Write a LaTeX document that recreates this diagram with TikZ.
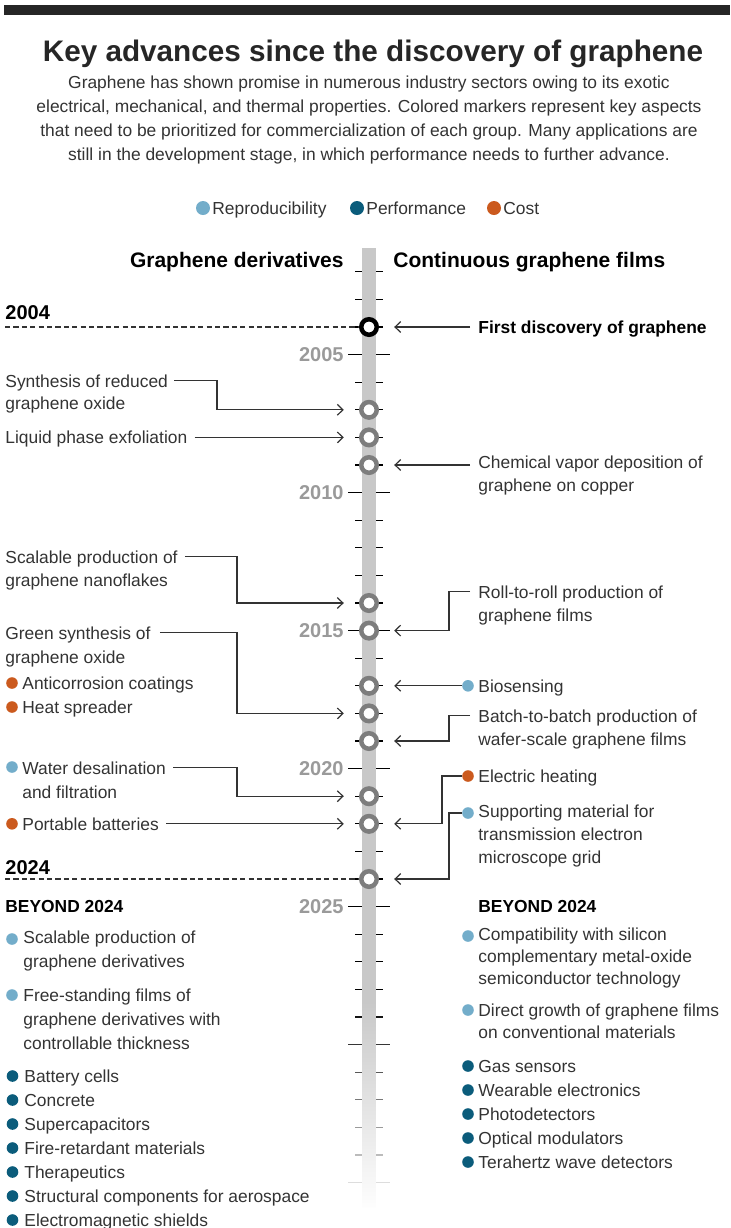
\documentclass[tikz,border=0pt]{standalone}
\usepackage{fontspec}
\setmainfont{Liberation Sans}
\usepackage{tikz}
\usetikzlibrary{positioning, calc, arrows.meta, fadings}

\definecolor{ink}{HTML}{333333}
\definecolor{barg}{HTML}{C8C8C8}
\definecolor{ringg}{HTML}{7D7D7D}
\definecolor{yearg}{HTML}{9A9A9A}
\definecolor{repro}{HTML}{73ADCA}
\definecolor{perf}{HTML}{0B5C7B}
\definecolor{cost}{HTML}{CB5A1E}

\newcommand{\bodyfont}{\fontsize{8.7pt}{11.5pt}\selectfont}

\tikzset{
  lbl/.style={anchor=west, inner sep=0pt, align=left, text=ink, font=\bodyfont},
  line1/.style={lbl, text height=8pt, text depth=1.8pt},
  boldlbl/.style={line1, text=black, font=\bodyfont\bfseries},
  yearlbl/.style={anchor=west, inner sep=0pt, text=black, font=\fontsize{10pt}{12pt}\selectfont\bfseries},
  axislbl/.style={anchor=east, inner sep=0pt, text=yearg, font=\fontsize{10pt}{12pt}\selectfont\bfseries},
  ring/.style={circle, draw=ringg, line width=2.25pt, fill=white, minimum size=7.75pt, inner sep=0pt},
  dot/.style={circle, fill=#1, minimum size=5.8pt, inner sep=0pt},
  conn/.style={draw=ink, line width=0.65pt, -{Straight Barb[length=2.8pt, width=5.4pt, line width=0.6pt]}, shorten >=7.6pt},
  tickmark/.style={draw=black, line width=0.6pt},
  dashline/.style={draw=ink, line width=0.65pt, dash pattern=on 2.6pt off 1.6pt}
}

\begin{document}
\begin{tikzpicture}[x=0.5pt, y=-0.5pt,
  declare function={yr(\t)=327+(\t-2004)*27.6;}]
\useasboundingbox (0,0) rectangle (730,1228);

% header
\fill[black!85] (4,5) rectangle (730,15);
\node[inner sep=0pt, text=black!85, font=\fontsize{14.85pt}{16pt}\selectfont\bfseries] (title) at (373,54)
  {Key advances since the discovery of graphene};
\node[inner sep=0pt, align=center, text=ink, font=\fontsize{8.7pt}{12pt}\selectfont] (intro) at (369,120)
  {Graphene has shown promise in numerous industry sectors owing to its exotic\\
   electrical, mechanical, and thermal properties. Colored markers represent key aspects\\
   that need to be prioritized for commercialization of each group. Many applications are\\
   still in the development stage, in which performance needs to further advance.};

% legend
\node[dot=repro, minimum size=7pt] (legR) at (203,208) {};
\node[line1] (legRt) at (212,208) {Reproducibility};
\node[dot=perf, minimum size=7pt] (legP) at (357,208) {};
\node[line1] (legPt) at (366,208) {Performance};
\node[dot=cost, minimum size=7pt] (legC) at (494,208) {};
\node[line1] (legCt) at (503,208) {Cost};

% column heads
\node[anchor=east, inner sep=0pt, font=\fontsize{10.5pt}{12pt}\selectfont\bfseries] (colL) at (344,262) {Graphene derivatives};
\node[anchor=west, inner sep=0pt, font=\fontsize{10.5pt}{12pt}\selectfont\bfseries] (colR) at (393,262) {Continuous graphene films};

% time axis
\foreach \t in {2002,...,2035}
  \draw[tickmark] (355,{yr(\t)}) -- (383,{yr(\t)});
\foreach \t in {2005,2010,...,2035}
  \draw[tickmark] (348,{yr(\t)}) -- (390,{yr(\t)});
\fill[barg] (362,248) rectangle (376,1208);
\foreach \t in {2005,2010,...,2025}
  \node[axislbl] at (344,{yr(\t)}) {\t};

% years 2004 and 2024
\coordinate (d04) at (5,{yr(2004)});
\coordinate (d24) at (5,{yr(2024)});
\node[yearlbl] (y04) at (5,313) {2004};
\node[yearlbl] (y24) at (5,868) {2024};
\draw[dashline] (d04) -- (369,{yr(2004)});
\draw[dashline] (d24) -- (369,{yr(2024)});

% events on the axis
\node[ring, draw=black] (r04) at (369,{yr(2004)}) {};
\foreach \t in {2007,2008,2009,2014,2015,2017,2018,2019,2021,2022,2024}
  \node[ring] (r\t) at (369,{yr(\t)}) {};

% bend columns
\coordinate (bendA) at (217,0);
\coordinate (bendB) at (237,0);
\coordinate (bendC) at (449,0);
\coordinate (bendD) at (442,0);

% graphene derivatives
\node[lbl] (synrgo) at (5,394) {Synthesis of reduced\\[-0.5pt]graphene oxide};
\node[line1] (lpe) at (5,{yr(2008)}) {Liquid phase exfoliation};
\node[lbl] (snf) at (5,570.5) {Scalable production of\\graphene nanoflakes};
\node[lbl] (gso) at (5,647) {Green synthesis of\\[0.5pt]graphene oxide};
\node[dot=cost] (dcor) at (12,683) {};
\node[line1] (cor) at (22,683) {Anticorrosion coatings};
\node[dot=cost] (dspr) at (12,707) {};
\node[line1] (spr) at (22,707) {Heat spreader};
\node[dot=repro] (dwat) at (12,767) {};
\node[lbl] (wat) at (22,780) {Water desalination\\[0.5pt]and filtration};
\node[dot=cost] (dbat) at (12,{yr(2022)}) {};
\node[line1] (bat) at (22,{yr(2022)}) {Portable batteries};

\draw[conn] ([shift={(6,6)}]synrgo.north east) -| (bendA |- r2007) -- (r2007);
\draw[conn] ([xshift=3.5pt]lpe.east) -- (r2008);
\draw[conn] ([shift={(7,6)}]snf.north east) -| (bendB |- r2014) -- (r2014);
\draw[conn] ([shift={(9,6)}]gso.north east) -| (bendB |- r2018) -- (r2018);
\draw[conn] ([shift={(7,6)}]wat.north east) -| (bendB |- r2021) -- (r2021);
\draw[conn] ([xshift=3.5pt]bat.east) -- (r2022);

% continuous graphene films
\node[boldlbl] (first) at (478,{yr(2004)}) {First discovery of graphene};
\node[lbl] (cvd) at (478,475.5) {Chemical vapor deposition of\\graphene on copper};
\node[lbl] (roll) at (478,605.5) {Roll-to-roll production of\\graphene films};
\node[dot=repro] (dbio) at (468,{yr(2017)}) {};
\node[line1] (bio) at (478,{yr(2017)}) {Biosensing};
\node[lbl] (batch) at (478,729.5) {Batch-to-batch production of\\wafer-scale graphene films};
\node[dot=cost] (dheat) at (468,776) {};
\node[line1] (heat) at (478,776) {Electric heating};
\node[dot=repro] (dsup) at (468,813) {};
\node[lbl] (sup) at (478,836) {Supporting material for\\transmission electron\\microscope grid};

\draw[conn] ([xshift=-4pt]first.west) -- (r04);
\draw[conn] ([xshift=-4pt]cvd.west |- r2009) -- (r2009);
\draw[conn] ([shift={(-8,6)}]roll.north west) -| (bendC |- r2015) -- (r2015);
\draw[conn] (dbio) -- (r2017);
\draw[conn] ([shift={(-8,6)}]batch.north west) -| (bendC |- r2019) -- (r2019);
\draw[conn] (dheat) -| (bendD |- r2022) -- (r2022);
\draw[conn] (dsup) -| (bendC |- r2024) -- (r2024);

% beyond 2024, left
\node[boldlbl] (beyL) at (5,906) {BEYOND 2024};
\node[dot=repro] (lb1d) at (12,939) {};
\node[lbl, font=\fontsize{8.7pt}{12pt}\selectfont] (lb1) at (23,951) {Scalable production of\\graphene derivatives};
\node[dot=repro] (lb2d) at (12,995) {};
\node[lbl, font=\fontsize{8.7pt}{12pt}\selectfont] (lb2) at (23,1019) {Free-standing films of\\graphene derivatives with\\controllable thickness};
\foreach \txt [count=\i from 0] in {Battery cells, Concrete, Supercapacitors, Fire-retardant materials,
    Therapeutics, Structural components for aerospace, Electromagnetic shields}
{
  \node[dot=perf] (lp\i d) at (12.5,{1076+24*\i}) {};
  \node[line1] (lp\i) at (24,{1076+24*\i}) {\txt};
}

% beyond 2024, right
\node[boldlbl] (beyR) at (478,906) {BEYOND 2024};
\node[dot=repro] (rb1d) at (468,936) {};
\node[lbl, font=\fontsize{8.7pt}{11pt}\selectfont] (rb1) at (478,958) {Compatibility with silicon\\complementary metal-oxide\\semiconductor technology};
\node[dot=repro] (rb2d) at (468,1010) {};
\node[lbl, font=\fontsize{8.7pt}{11pt}\selectfont] (rb2) at (478,1021) {Direct growth of graphene films\\on conventional materials};
\foreach \txt [count=\i from 0] in {Gas sensors, Wearable electronics, Photodetectors,
    Optical modulators, Terahertz wave detectors}
{
  \node[dot=perf] (rp\i d) at (468,{1066+24*\i}) {};
  \node[line1] (rp\i) at (478,{1066+24*\i}) {\txt};
}

% axis fades out at the bottom
\fill[white, path fading=north] (340,1000) rectangle (400,1210);
\end{tikzpicture}
\end{document}
